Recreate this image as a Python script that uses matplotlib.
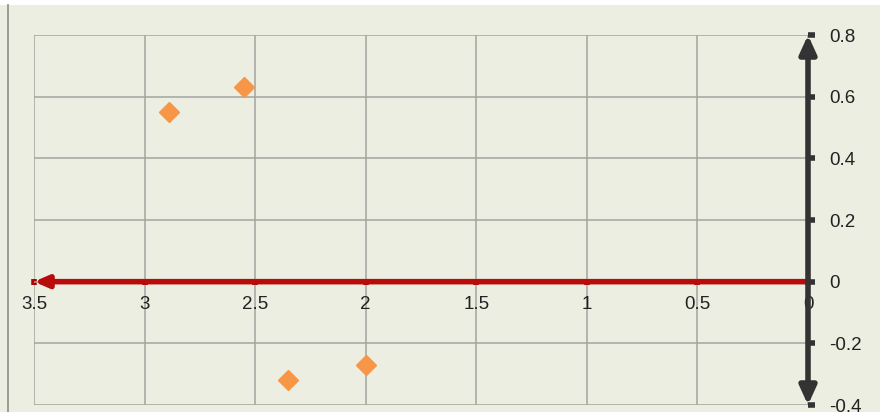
import matplotlib.pyplot as plt
from matplotlib.lines import Line2D
from matplotlib.patches import Rectangle

# values
x_vals = [2.89, 2.55, 2.35, 2.0]
y_vals = [0.55, 0.63, -0.32, -0.27]
x_ticks = [0, 0.5, 1, 1.5, 2, 2.5, 3, 3.5]
x_labels = ["0", "0.5", "1", "1.5", "2", "2.5", "3", "3.5"]
y_ticks = [-0.4, -0.2, 0, 0.2, 0.4, 0.6, 0.8]
y_labels = ["-0.4", "-0.2", "0", "0.2", "0.4", "0.6", "0.8"]

bg = "#ebeee0"
plt.rcParams["font.family"] = ["Liberation Sans", "DejaVu Sans"]

fig = plt.figure(figsize=(8.8, 4.12), dpi=100, facecolor=bg)
ax = fig.add_axes([34 / 880, 7 / 412, 774 / 880, 370 / 412])
ax.set_facecolor(bg)

# frame bits of the chart area
fig.patches.append(Rectangle((0, 1 - 5 / 412), 1, 5 / 412, transform=fig.transFigure,
                             facecolor="white", edgecolor="none", zorder=0))
fig.lines.append(Line2D([7.5 / 880, 7.5 / 880], [0, 1 - 5 / 412], transform=fig.transFigure,
                        color="#8a8c86", lw=1.2))

ax.set_xlim(3.5, 0)
ax.set_ylim(-0.4, 0.8)
ax.set_xticks(x_ticks)
ax.set_xticklabels(x_labels)
ax.set_yticks(y_ticks)
ax.set_yticklabels(y_labels)
ax.grid(True, color="#a3a59f", lw=1.1)
ax.set_axisbelow(True)

for s in ax.spines.values():
    s.set_visible(False)
ax.spines["bottom"].set_position(("data", 0))
ax.yaxis.tick_right()

ax.tick_params(axis="x", direction="inout", length=5, width=4, color="#b30000",
               labelsize=13.5, pad=8, labelcolor="#222222")
ax.tick_params(axis="y", direction="out", length=5, width=4, color="#333333",
               labelsize=13.5, pad=10, labelcolor="#222222")
for lab in ax.get_yticklabels():
    lab.set_clip_on(False)

# axis arrows
ax.annotate("", xy=(3.5, 0), xytext=(0, 0), annotation_clip=False,
            arrowprops=dict(arrowstyle="-|>,head_length=0.8,head_width=0.35",
                            color="#b80c0c", lw=4, shrinkA=0, shrinkB=0))
ax.annotate("", xy=(0, 0.8), xytext=(0, -0.4), annotation_clip=False,
            arrowprops=dict(arrowstyle="<|-|>,head_length=1.1,head_width=0.5",
                            color="#333333", lw=4, shrinkA=0, shrinkB=0))

ax.plot(x_vals, y_vals, linestyle="none", marker="D", markersize=10,
        color="#f79646", markeredgecolor="#f79646", zorder=5)

fig.savefig("out.png", dpi=100, facecolor=bg)
